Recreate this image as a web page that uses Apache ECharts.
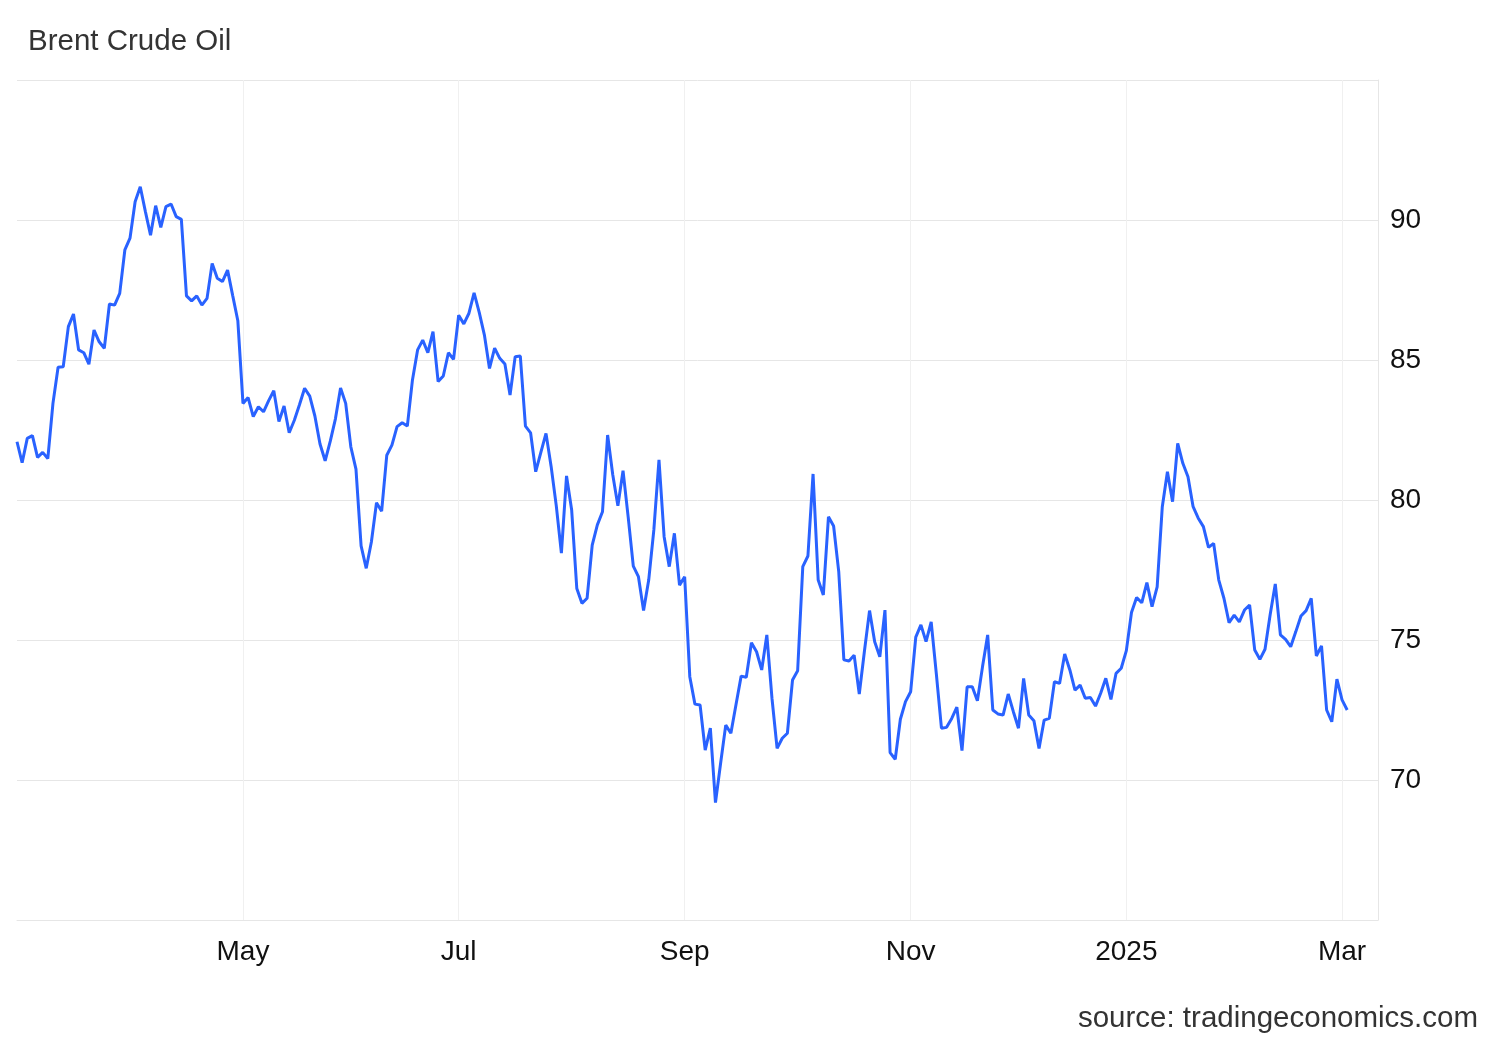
<!DOCTYPE html>
<html>
<head>
<meta charset="utf-8">
<title>Brent Crude Oil</title>
<script src="https://cdn.jsdelivr.net/npm/echarts@6/dist/echarts.min.js"></script>
<style>
html,body{margin:0;padding:0;background:#fff;}
#chart{width:1500px;height:1040px;}
</style>
</head>
<body>
<div id="chart"></div>
<script>
// Daily Brent values (USD/bbl), split by two-month blocks
const priceMarApr2024 = [82.08,81.33,82.2,82.3,81.52,81.7,81.48,83.45,84.74,84.76,86.19,86.64,85.36,85.26,84.85,86.07,85.65,85.42,87.0,86.96,87.38,88.93,89.35,90.65,91.19,90.3,89.46,90.51,89.74,90.48,90.57,90.12,90.02,87.29,87.11,87.29,86.96,87.2,88.45,87.92,87.8,88.21,87.3,86.4];
const priceMayJun2024 = [83.45,83.66,82.98,83.33,83.15,83.55,83.9,82.8,83.36,82.4,82.85,83.4,83.99,83.71,83.0,82.0,81.4,82.1,82.9,84.0,83.45,81.9,81.1,78.36,77.56,78.5,79.9,79.6,81.6,81.96,82.62,82.76,82.64,84.29,85.36,85.71,85.26,86.01,84.23,84.43,85.26,85.02];
const priceJulAug2024 = [86.6,86.29,86.67,87.4,86.7,85.9,84.7,85.42,85.06,84.86,83.75,85.12,85.14,82.64,82.4,81.01,81.7,82.38,81.2,79.8,78.1,80.86,79.64,76.84,76.31,76.49,78.39,79.11,79.58,82.32,80.9,79.79,81.05,79.4,77.64,77.26,76.05,77.14,78.93,81.43,78.69,77.62,78.81,76.96];
const priceSepOct2024 = [77.26,73.69,72.71,72.68,71.07,71.85,69.19,70.6,71.96,71.67,72.7,73.71,73.67,74.9,74.58,73.93,75.18,72.92,71.13,71.49,71.67,73.57,73.9,77.62,78.0,80.93,77.14,76.61,79.4,79.07,77.44,74.29,74.25,74.46,73.07,74.6,76.05,74.94,74.4,76.07,70.98,70.74,72.17,72.8];
const priceNovDec2024 = [73.15,75.1,75.54,74.94,75.65,73.8,71.85,71.88,72.2,72.6,71.05,73.33,73.33,72.83,74.05,75.18,72.5,72.36,72.32,73.07,72.44,71.85,73.63,72.32,72.12,71.13,72.14,72.2,73.51,73.45,74.5,73.93,73.21,73.39,72.92,72.95,72.64,73.1,73.63,72.88,73.81,73.99];
const priceJanMar2025 = [74.62,75.98,76.52,76.33,77.05,76.19,76.9,79.76,81.01,79.94,82.02,81.31,80.83,79.76,79.35,79.05,78.31,78.45,77.14,76.49,75.62,75.89,75.65,76.07,76.25,74.64,74.31,74.67,75.9,77.0,75.18,75.02,74.76,75.3,75.86,76.05,76.49,74.43,74.79,72.5,72.08,73.6,72.86,72.5];

// Trading calendar (weekdays minus market holidays) used as categories
const firstDate = '2024-02-27';
const lastAxisDate = '2025-03-12';
const holidays = ['2024-03-29','2024-04-01','2024-05-27','2024-07-04','2024-12-25','2025-01-01'];

// X tick labels at the first trading day of these months
const tickMonths = ['2024-05','2024-07','2024-09','2024-11','2025-01','2025-03'];
const tickLabels = ['May','Jul','Sep','Nov','2025','Mar'];

// Y axis
const yMin = 65, yMax = 95, yStep = 5;
const yTickLabels = [70, 75, 80, 85, 90];

function fmt(d){
  const m = d.getUTCMonth()+1, day = d.getUTCDate();
  return d.getUTCFullYear() + '-' + (m<10?'0':'') + m + '-' + (day<10?'0':'') + day;
}
const categories = [];
(function(){
  let d = new Date(firstDate + 'T00:00:00Z');
  const end = new Date(lastAxisDate + 'T00:00:00Z');
  while (d <= end) {
    const wd = d.getUTCDay();
    const s = fmt(d);
    if (wd !== 0 && wd !== 6 && holidays.indexOf(s) < 0) categories.push(s);
    d = new Date(d.getTime() + 86400000);
  }
})();

const prices = [].concat(priceMarApr2024, priceMayJun2024, priceJulAug2024, priceSepOct2024, priceNovDec2024, priceJanMar2025);
const seriesData = categories.map((c, i) => (i < prices.length ? prices[i] : null));

function isTick(index) {
  if (index === 0) return false;
  const m = categories[index].slice(0, 7);
  const pm = categories[index - 1].slice(0, 7);
  return m !== pm && tickMonths.indexOf(m) >= 0;
}

const FONT = "'Liberation Sans', Arial, Helvetica, sans-serif";

const chart = echarts.init(document.getElementById('chart'), null, {renderer: 'canvas'});
chart.setOption({
  animation: false,
  backgroundColor: '#ffffff',
  title: [
    {
      text: 'Brent Crude Oil',
      left: 23, top: 22,
      textStyle: {fontFamily: FONT, fontSize: 29.5, fontWeight: 'normal', color: '#333333'}
    },
    {
      text: 'source: tradingeconomics.com',
      right: 17, top: 999,
      textStyle: {fontFamily: FONT, fontSize: 29.5, fontWeight: 'normal', color: '#333333'}
    }
  ],
  grid: {left: 17, right: 122, top: 80, bottom: 120, containLabel: false},
  xAxis: {
    type: 'category',
    data: categories,
    boundaryGap: false,
    axisLine: {show: true, lineStyle: {color: '#e6e6e6', width: 1}},
    axisTick: {show: false},
    axisLabel: {
      interval: (index) => isTick(index),
      formatter: (value) => {
        const k = tickMonths.indexOf(value.slice(0, 7));
        return k >= 0 ? tickLabels[k] : '';
      },
      margin: 18,
      fontFamily: FONT,
      fontSize: 28,
      color: '#111111'
    },
    splitLine: {show: true, interval: (index) => isTick(index), lineStyle: {color: '#f0f0f0', width: 1}}
  },
  yAxis: {
    type: 'value',
    position: 'right',
    min: yMin, max: yMax, interval: yStep,
    axisLine: {show: true, lineStyle: {color: '#e6e6e6', width: 1}},
    axisTick: {show: false},
    axisLabel: {
      formatter: (v) => (yTickLabels.indexOf(v) >= 0 ? String(v) : ''),
      margin: 12,
      fontFamily: FONT,
      fontSize: 28,
      color: '#111111'
    },
    splitLine: {show: true, lineStyle: {color: '#e6e6e6', width: 1}}
  },
  series: [{
    name: 'Brent Crude Oil',
    type: 'line',
    data: seriesData,
    showSymbol: false,
    symbol: 'none',
    smooth: false,
    connectNulls: false,
    lineStyle: {color: '#2962ff', width: 3},
    itemStyle: {color: '#2962ff'}
  }]
});
</script>
</body>
</html>
